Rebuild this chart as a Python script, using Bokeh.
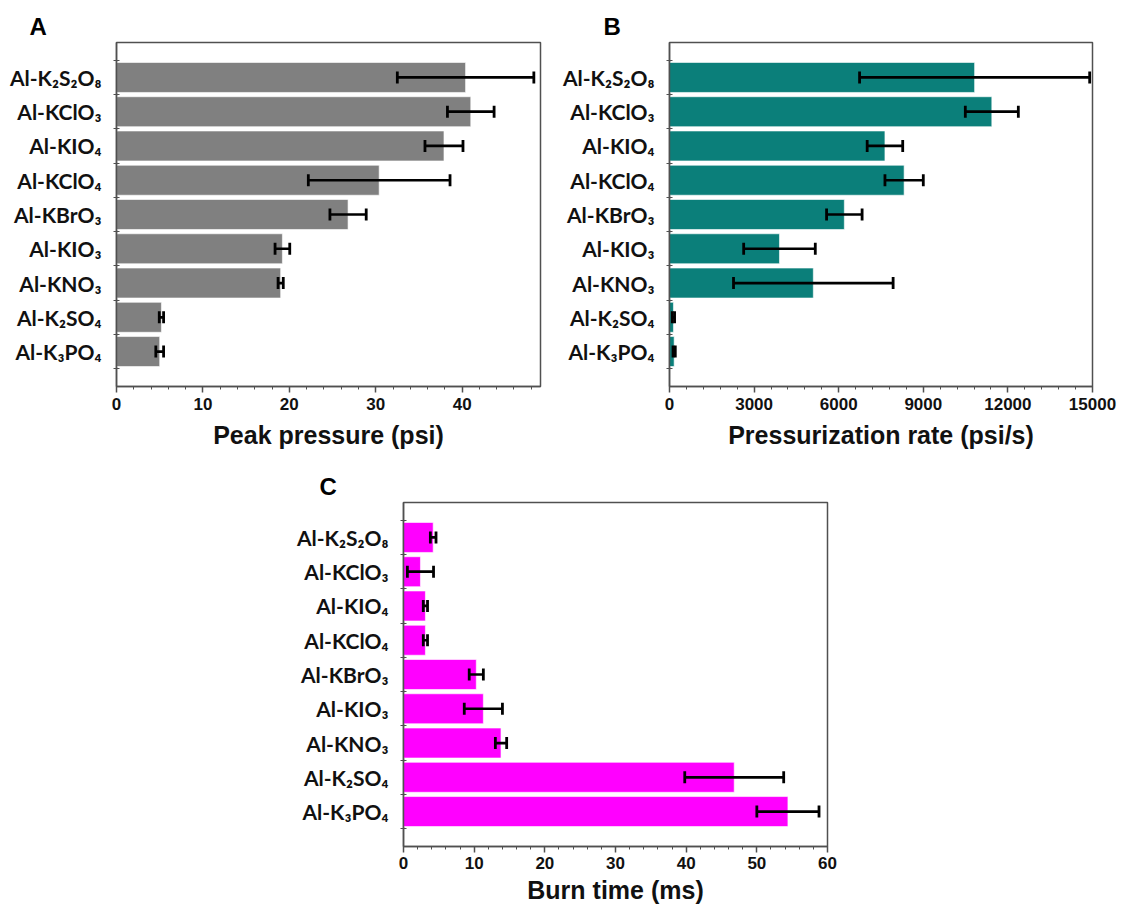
from bokeh.plotting import figure
from bokeh.models import Range1d, FixedTicker, Whisker, TeeHead, ColumnDataSource, Spacer
from bokeh.layouts import column, row
from bokeh.embed import file_html
from bokeh.resources import INLINE

# ---------------- data ----------------
categories = ["Al-K₂S₂O₈", "Al-KClO₃", "Al-KIO₄", "Al-KClO₄", "Al-KBrO₃",
              "Al-KIO₃", "Al-KNO₃", "Al-K₂SO₄", "Al-K₃PO₄"]

peak_pressure = [40.4, 41.0, 37.9, 30.4, 26.8, 19.2, 19.0, 5.2, 5.0]
peak_pressure_err = [7.9, 2.7, 2.2, 8.2, 2.1, 0.85, 0.3, 0.25, 0.45]

pressurization_rate = [10820, 11430, 7640, 8320, 6200, 3900, 5100, 140, 165]
pressurization_rate_err = [4080, 940, 630, 680, 630, 1270, 2830, 40, 40]

burn_time = [4.2, 2.4, 3.1, 3.1, 10.3, 11.3, 13.8, 46.8, 54.4]
burn_time_err = [0.4, 1.85, 0.3, 0.3, 1.0, 2.7, 0.8, 7.0, 4.4]

pressure_ticks = [0, 10, 20, 30, 40]
rate_ticks = [0, 3000, 6000, 9000, 12000, 15000]
burn_ticks = [0, 10, 20, 30, 40, 50, 60]

LABEL_FONT = "Lato"
AXIS_FONT = "Liberation Sans"
AX = "#505050"


def make_panel(letter, values, errors, color, xmax, ticks, xlabel,
               bl, br, bt, bb, letter_offset, fw=424, fh=344, title_standoff=6):
    n = len(categories)
    pos = list(range(n))
    src = ColumnDataSource(dict(
        y=pos, v=values,
        lo=[v - e for v, e in zip(values, errors)],
        hi=[v + e for v, e in zip(values, errors)],
    ))
    p = figure(frame_width=fw, frame_height=fh,
               x_range=Range1d(0, xmax),
               y_range=Range1d(n - 0.5 + 0.52, -0.5 - 0.52),
               output_backend="svg", toolbar_location=None,
               min_border_left=bl, min_border_right=br,
               min_border_top=bt, min_border_bottom=bb)
    p.hbar(y="y", left=0, right="v", height=0.875, source=src,
           fill_color=color, line_color="white", line_width=1, line_alpha=0.6)
    head_u = TeeHead(size=12, line_width=2.8, line_color="black")
    head_l = TeeHead(size=12, line_width=2.8, line_color="black")
    p.add_layout(Whisker(source=src, base="y", lower="lo", upper="hi",
                         dimension="width", line_color="black", line_width=2.7,
                         upper_head=head_u, lower_head=head_l, level="overlay"))

    p.xgrid.visible = False
    p.ygrid.visible = False
    p.outline_line_color = AX
    p.outline_line_width = 1.5
    p.background_fill_color = "white"
    p.border_fill_color = "white"

    # y axis: labels at category centers, small ticks at boundaries
    ya = p.yaxis[0]
    ya.ticker = FixedTicker(ticks=pos, minor_ticks=[i - 0.5 for i in range(n + 1)])
    ya.major_label_overrides = {i: categories[i] for i in pos}
    ya.major_tick_in = 0
    ya.major_tick_out = 0
    ya.minor_tick_in = 3
    ya.minor_tick_out = 3
    ya.minor_tick_line_color = AX
    ya.axis_line_color = AX
    ya.axis_line_width = 1.5
    ya.major_label_standoff = 12
    ya.major_label_text_font = LABEL_FONT
    ya.major_label_text_font_size = "21px"
    ya.major_label_text_font_style = "bold"
    ya.major_label_text_color = "#111111"

    # x axis
    step = ticks[1] - ticks[0]
    minors = []
    k = 0
    while ticks[0] + k * step / 5 <= xmax + 1e-9:
        minors.append(ticks[0] + k * step / 5)
        k += 1
    xa = p.xaxis[0]
    xa.ticker = FixedTicker(ticks=ticks, minor_ticks=minors)
    xa.major_tick_in = 0
    xa.major_tick_out = 6
    xa.minor_tick_in = 0
    xa.minor_tick_out = 3
    xa.major_tick_line_color = AX
    xa.minor_tick_line_color = AX
    xa.major_tick_line_width = 1.5
    xa.axis_line_color = AX
    xa.axis_line_width = 1.5
    xa.major_label_text_font = AXIS_FONT
    xa.major_label_text_font_size = "17px"
    xa.major_label_text_font_style = "bold"
    xa.major_label_text_color = "#111111"
    xa.major_label_standoff = 5
    xa.axis_label = xlabel
    xa.axis_label_text_font = AXIS_FONT
    xa.axis_label_text_font_size = "25px"
    xa.axis_label_text_font_style = "bold"
    xa.axis_label_text_color = "#111111"
    xa.axis_label_standoff = 8

    p.title.text = letter
    p.title.text_font = AXIS_FONT
    p.title.text_font_size = "24px"
    p.title.text_font_style = "bold"
    p.title.text_color = "black"
    p.title.align = "left"
    p.title.offset = letter_offset
    p.title.standoff = title_standoff
    return p


pA = make_panel("A", peak_pressure, peak_pressure_err, "#808080", 49.07,
                pressure_ticks, "Peak pressure (psi)", 116, 19, 42, 66, -87)
pB = make_panel("B", pressurization_rate, pressurization_rate_err, "#0b7f7a", 15000,
                rate_ticks, "Pressurization rate (psi/s)", 110, 26, 42, 66, -66, fw=423)
pC = make_panel("C", burn_time, burn_time_err, "#ff00ff", 60,
                burn_ticks, "Burn time (ms)", 111, 40, 50, 56, -84)
pC.xaxis[0].axis_label_standoff = 4
pC.xaxis[0].major_label_standoff = 4

layout = column(row(pA, pB), row(Spacer(width=292, height=10), pC))

open("out.html", "w").write(file_html(layout, INLINE))
